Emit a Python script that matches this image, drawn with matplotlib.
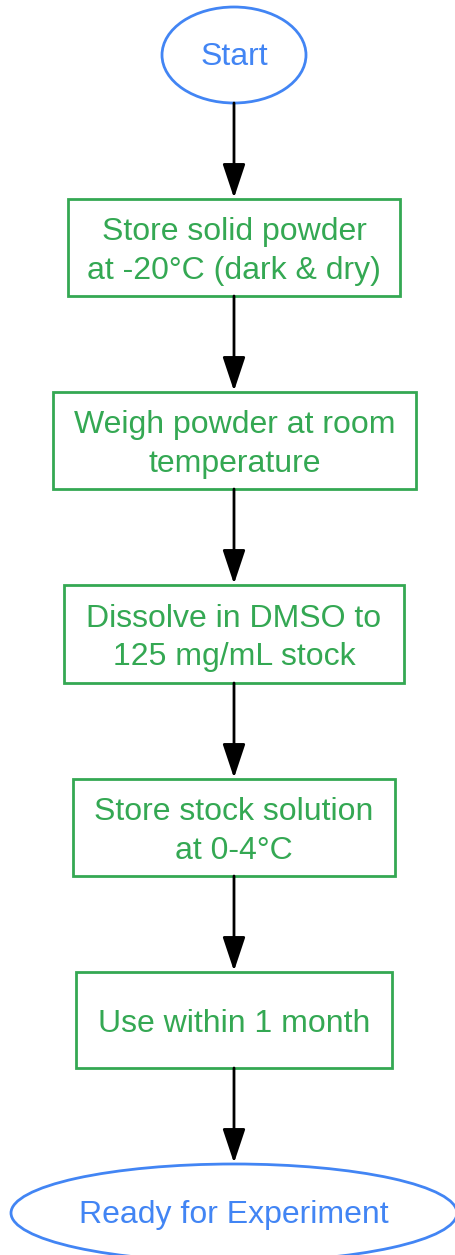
import matplotlib
matplotlib.use("Agg")
import matplotlib.pyplot as plt
from matplotlib.patches import Ellipse, Rectangle, FancyArrowPatch

plt.rcParams['font.family'] = ['Liberation Sans', 'DejaVu Sans']

# Flowchart content
node_labels = ["Start",
               "Store solid powder\nat -20°C (dark & dry)",
               "Weigh powder at room\ntemperature",
               "Dissolve in DMSO to\n125 mg/mL stock",
               "Store stock solution\nat 0-4°C",
               "Use within 1 month",
               "Ready for Experiment"]
node_shapes = ["ellipse", "box", "box", "box", "box", "box", "ellipse"]

# geometry (pixel layout): top, bottom, left, right
node_tops = [7, 199, 392, 585, 779, 972, 1164]
node_bottoms = [103, 296, 489, 683, 876, 1068, 1262]
node_lefts = [162, 68, 53, 64, 73, 76, 11]
node_rights = [306, 400, 416, 404, 395, 392, 457]

BLUE = "#4285F4"
GREEN = "#34A853"

W, H = 456, 1255
fig = plt.figure(figsize=(W / 100, H / 100), dpi=100)
ax = fig.add_axes([0, 0, 1, 1])
ax.set_xlim(0, W)
ax.set_ylim(H, 0)
ax.axis("off")

cx = 234
for lab, shp, t, b, l, r in zip(node_labels, node_shapes, node_tops, node_bottoms, node_lefts, node_rights):
    mid = (t + b) / 2
    if shp == "ellipse":
        ax.add_patch(Ellipse(((l + r) / 2, mid), r - l, b - t, fill=False, ec=BLUE, lw=2))
        col = BLUE
        ty = mid + 2
    else:
        ax.add_patch(Rectangle((l, t), r - l, b - t, fill=False, ec=GREEN, lw=2))
        col = GREEN
        ty = mid + 4
    ax.text((l + r) / 2, ty, lab, ha="center", va="center", color=col,
            fontsize=23, linespacing=1.35)

for i in range(len(node_labels) - 1):
    y0 = node_bottoms[i]
    y1 = node_tops[i + 1] - 1
    ax.add_patch(FancyArrowPatch((cx, y0), (cx, y1), arrowstyle="-|>,head_length=2.1,head_width=0.7",
                                 mutation_scale=10, color="black", lw=2, shrinkA=0, shrinkB=0))

fig.savefig("out.png", dpi=100)
